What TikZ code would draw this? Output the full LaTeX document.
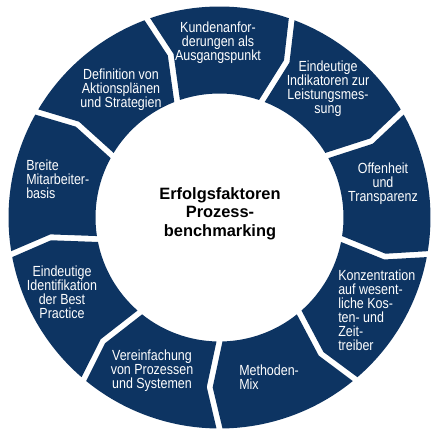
\documentclass[tikz,border=0pt]{standalone}
\usepackage{fontspec}
\setmainfont{Liberation Sans}
\newfontfamily\segfont[FakeStretch=0.85]{Liberation Sans}
\usepackage{tikz}
\definecolor{navy}{RGB}{13,52,98}
\tikzset{
  seg/.style={fill=navy,draw=none},
  lbl/.style={text=white,inner sep=0pt,align=center,font=\segfont\fontsize{11}{10.5}\selectfont},
  lbll/.style={lbl,align=left,anchor=west},
  hub/.style={inner sep=0pt,align=center,font=\bfseries\fontsize{12.3}{13.9}\selectfont}
}
\begin{document}
\begin{tikzpicture}[x=0.75pt,y=0.75pt]
\useasboundingbox (-219.5,-220.5) rectangle (219.5,217.5);
% ring of nine arrow segments, clockwise from the top
\foreach \a in {90,50,10,-30,-70,-110,-150,-190,-230}{
  \fill[seg] ({\a+20-0.82}:211) arc[start angle={\a+20-0.82},end angle={\a-20+0.82},radius=211]
    -- ({\a-20-3.3+1.0}:170) -- ({\a-20+1.39}:124)
    arc[start angle={\a-20+1.39},end angle={\a+20-1.39},radius=124]
    -- ({\a+20-3.3-1.0}:170) -- cycle;
}
\node[hub] (hub) at (0.5,4) {Erfolgsfaktoren\\Prozess-\\benchmarking};
\node[lbl] (kunden) at (-1.5,174.5) {Kundenanfor-\\derungen als\\Ausgangspunkt};
\node[lbl] (indik) at (108.5,128.5) {Eindeutige\\Indikatoren zur\\Leistungsmes-\\sung};
\node[lbl] (offen) at (163.5,33.5) {Offenheit\\und\\Transparenz};
\node[lbll] (konz) at (118.5,-92.5) {Konzentration\\auf wesent-\\liche Kos-\\ten- und\\Zeit-\\treiber};
\node[lbll] (methoden) at (19.5,-159.5) {Methoden-\\Mix};
\node[lbl] (vereinf) at (-67.5,-153.5) {Vereinfachung\\von Prozessen\\und Systemen};
\node[lbl] (bestpr) at (-157.5,-74.5) {Eindeutige\\Identifikation\\der Best\\Practice};
\node[lbll] (breite) at (-193.5,38.5) {Breite\\Mitarbeiter-\\basis};
\node[lbl] (defin) at (-98.5,127.5) {Definition von\\Aktionsplänen\\und Strategien};
\end{tikzpicture}
\end{document}
